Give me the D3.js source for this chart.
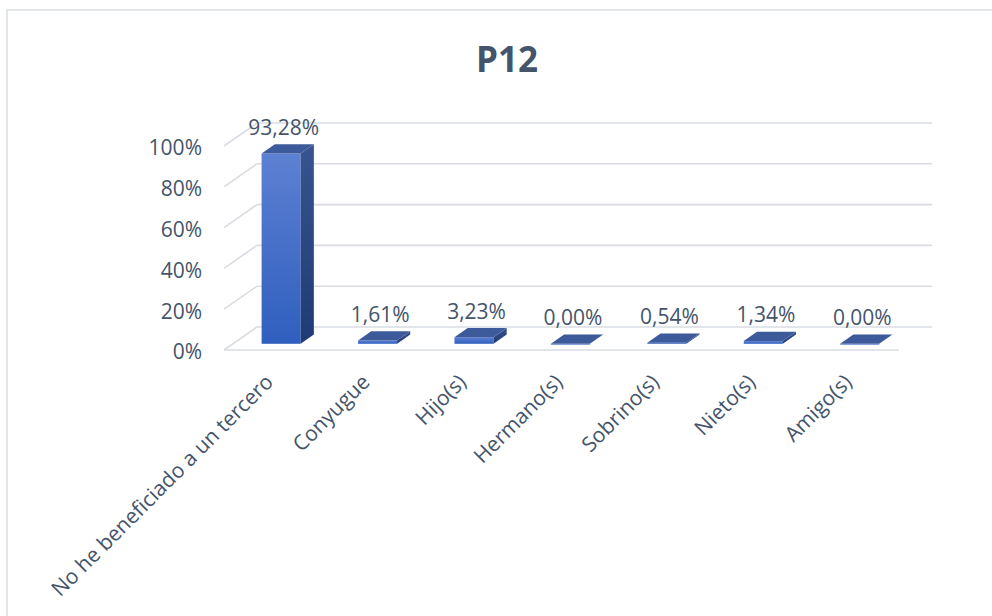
<!DOCTYPE html>
<html><head><meta charset="utf-8">
<script src="https://cdn.jsdelivr.net/npm/d3@7"></script>
<style>body{margin:0;background:#fff}svg{display:block}text{font-family:"Open Sans",sans-serif}</style>
</head><body><svg id="c" width="992" height="616"></svg>
<script>
const categories = ["No he beneficiado a un tercero","Conyugue","Hijo(s)","Hermano(s)","Sobrino(s)","Nieto(s)","Amigo(s)"];
const values = [93.28, 1.61, 3.23, 0.00, 0.54, 1.34, 0.00];
const valueLabels = ["93,28%","1,61%","3,23%","0,00%","0,54%","1,34%","0,00%"];
const yTicks = [0, 20, 40, 60, 80, 100];
const title = "P12";

const svg = d3.select("#c");
const txt = "#44546a";
svg.append("rect").attr("x",7).attr("y",10).attr("width",1000).attr("height",700)
  .attr("fill","#fff").attr("stroke","#d9dde6").attr("stroke-width",1.5);

svg.append("text").attr("x",507).attr("y",72).attr("text-anchor","middle")
  .attr("font-size",35).attr("font-weight","bold").attr("fill",txt).text(title);

const x = d3.scaleBand().domain(categories).range([224, 899]).paddingInner(0).paddingOuter(0);
const y = d3.scaleLinear().domain([0,100]).range([350, 146]);
const DX = 33, DY = -23;

const defs = svg.append("defs");
const gf = defs.append("linearGradient").attr("id","gf").attr("x1",0).attr("y1",0).attr("x2",0).attr("y2",1);
gf.append("stop").attr("offset","0").attr("stop-color","#5d80d2");
gf.append("stop").attr("offset","1").attr("stop-color","#2f5fbf");
const gs = defs.append("linearGradient").attr("id","gs").attr("x1",0).attr("y1",0).attr("x2",0).attr("y2",1);
gs.append("stop").attr("offset","0").attr("stop-color","#375490");
gs.append("stop").attr("offset","1").attr("stop-color","#1f3b75");

const grid = svg.append("g").attr("stroke","#d9dce3").attr("stroke-width",1.6).attr("fill","none");
yTicks.forEach(t => {
  const yy = y(t);
  grid.append("line").attr("x1",x.range()[0]).attr("y1",yy).attr("x2",x.range()[0]+DX).attr("y2",yy+DY);
  grid.append("line").attr("x1",x.range()[0]+DX).attr("y1",yy+DY).attr("x2",x.range()[1]+DX).attr("y2",yy+DY);
});
grid.append("line").attr("x1",x.range()[0]).attr("y1",y(0)).attr("x2",x.range()[1]).attr("y2",y(0));

const yAxis = svg.append("g");
yTicks.forEach(t => {
  yAxis.append("text").attr("x",202).attr("y",y(t)).attr("dy","0.45em").attr("text-anchor","end")
    .attr("font-size",21).attr("fill",txt).text(t + "%");
});

const fz = 0.27, bz = 0.40;
const bw = x.bandwidth()*0.405;
const bars = svg.append("g");
categories.forEach((c, i) => {
  const cx = x(c) + x.bandwidth()/2 + DX*fz;
  const oy = DY*fz;
  const x0 = cx - bw/2, x1 = cx + bw/2;
  const yb = y(0) + oy, yt = y(values[i]) + oy;
  const dx = DX*bz, dy = DY*bz;
  bars.append("rect").attr("x",x0).attr("y",yt).attr("width",bw).attr("height",Math.max(yb-yt,0.8))
    .attr("fill","url(#gf)");
  bars.append("path").attr("d",`M${x1},${yt}L${x1+dx},${yt+dy}L${x1+dx},${yb+dy}L${x1},${yb}Z`).attr("fill","url(#gs)");
  bars.append("path").attr("d",`M${x0},${yt}L${x0+dx},${yt+dy}L${x1+dx},${yt+dy}L${x1},${yt}Z`).attr("fill","#3d5b9b");
  bars.append("text").attr("x",cx + dx/2 - 4).attr("y",yt+dy-17).attr("dy","0.36em").attr("text-anchor","middle")
    .attr("font-size",21).attr("fill",txt).text(valueLabels[i]);
});

const xl = svg.append("g");
categories.forEach(c => {
  const cx = x(c) + x.bandwidth()/2;
  xl.append("text").attr("transform",`translate(${cx-3},${378}) rotate(-45)`).attr("text-anchor","end")
    .attr("dy","0.36em").attr("font-size",21).attr("fill",txt).text(c);
});
</script></body></html>
